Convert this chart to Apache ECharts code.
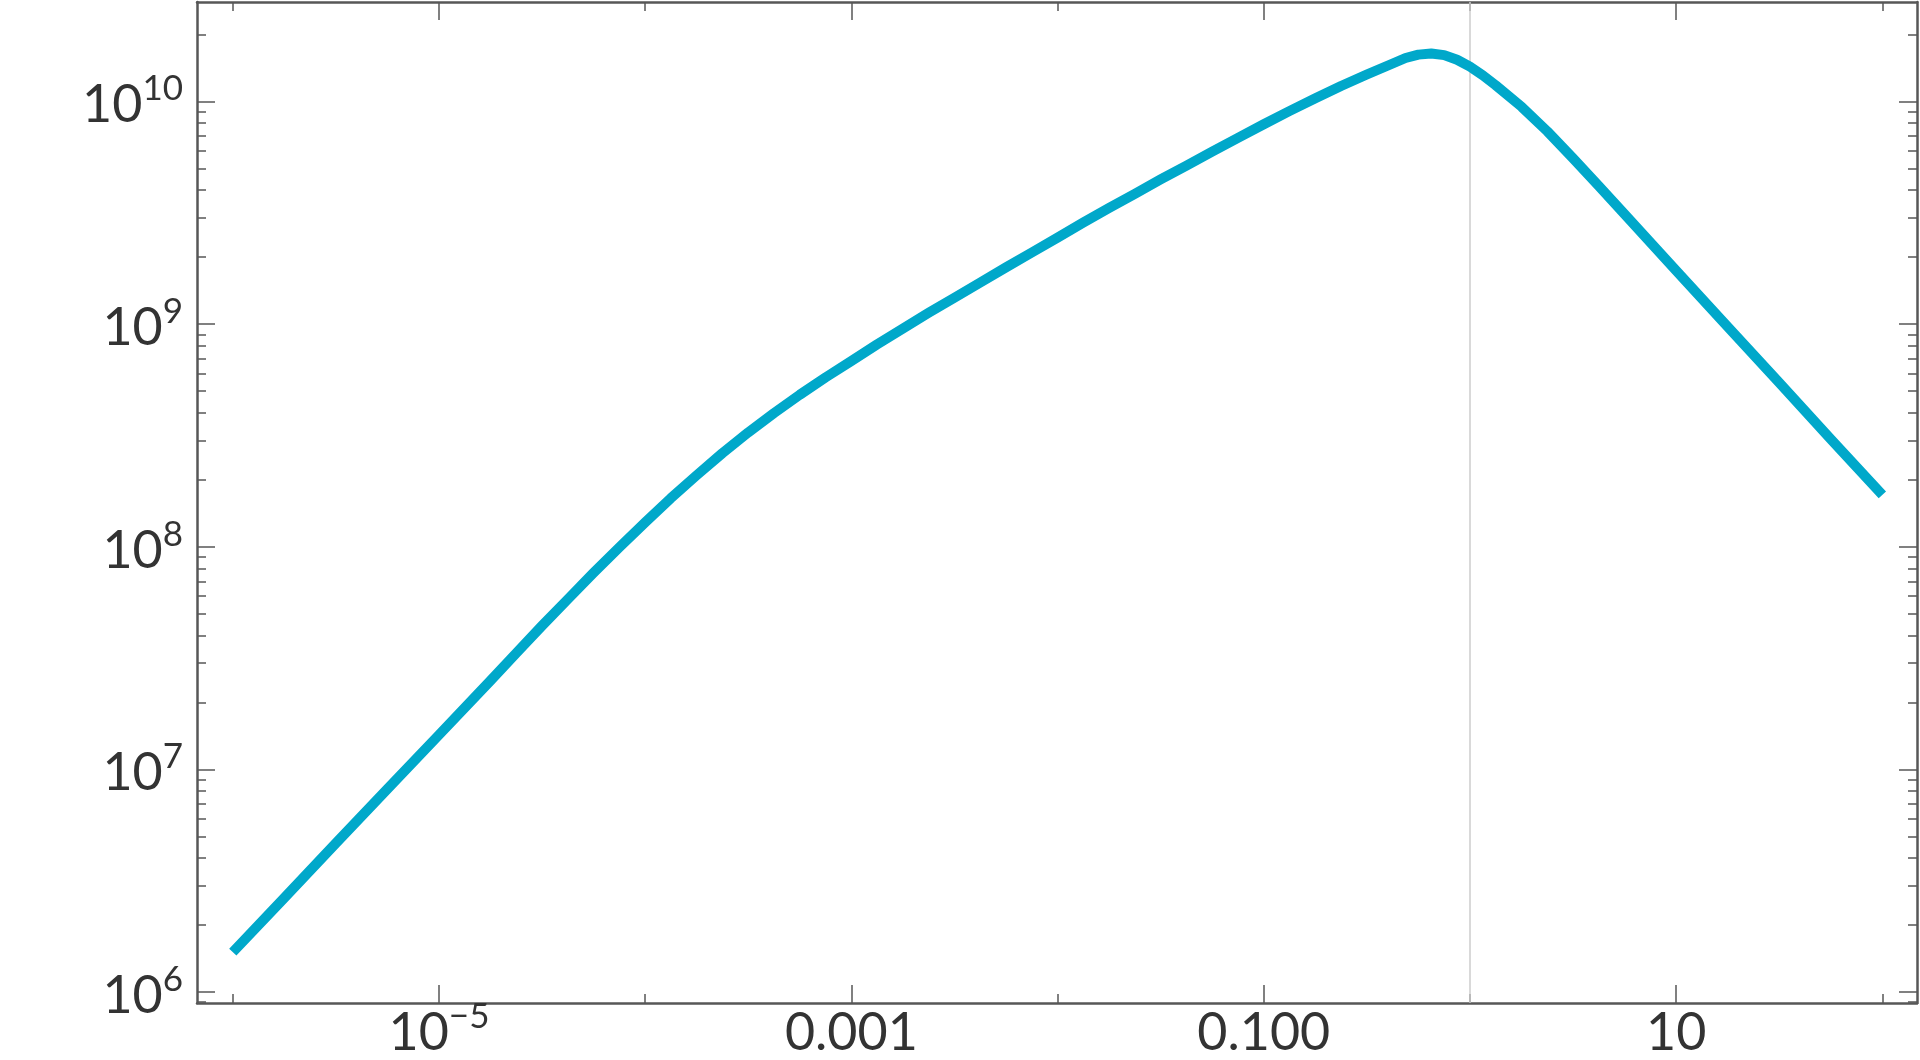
<!DOCTYPE html>
<html><head><meta charset="utf-8">
<script src="https://cdn.jsdelivr.net/npm/echarts@6/dist/echarts.min.js"></script>
<style>html,body{margin:0;padding:0;background:#fff}#c{width:1920px;height:1060px}</style>
</head><body><div id="c"></div>
<script>
// ---- data ----
const xValues = [1e-6, 1.78e-6, 3.16e-6, 5.62e-6, 1e-5, 1.78e-5, 2.37e-5, 3.16e-5, 4.22e-5, 5.62e-5, 7.5e-5,
  1e-4, 1.33e-4, 1.78e-4, 2.37e-4, 3.16e-4, 4.22e-4, 5.62e-4, 7.5e-4,
  1e-3, 1.33e-3, 1.78e-3, 2.37e-3, 3.16e-3, 4.22e-3, 5.62e-3, 7.5e-3,
  0.01, 0.0133, 0.0178, 0.0237, 0.0316, 0.0422, 0.0562, 0.075,
  0.1, 0.133, 0.178, 0.237, 0.316, 0.422, 0.487, 0.562, 0.649, 0.75, 0.866,
  1, 1.155, 1.33, 1.78, 2.37, 3.16, 4.22, 5.62, 10, 17.8, 31.6, 56.2, 100];
const yValues = [1.51e6, 2.65e6, 4.66e6, 8.17e6, 1.43e7, 2.51e7, 3.33e7, 4.42e7, 5.82e7, 7.64e7, 9.95e7,
  1.288e8, 1.652e8, 2.099e8, 2.636e8, 3.266e8, 3.99e8, 4.82e8, 5.77e8,
  6.84e8, 8.11e8, 9.57e8, 1.125e9, 1.315e9, 1.54e9, 1.80e9, 2.10e9,
  2.45e9, 2.86e9, 3.33e9, 3.85e9, 4.47e9, 5.16e9, 5.96e9, 6.87e9,
  7.91e9, 9.06e9, 1.035e10, 1.175e10, 1.324e10, 1.483e10, 1.570e10, 1.626e10, 1.644e10, 1.618e10, 1.542e10,
  1.435e10, 1.312e10, 1.186e10, 9.48e9, 7.36e9, 5.57e9, 4.17e9, 3.12e9, 1.74e9, 9.73e8, 5.46e8, 3.05e8, 1.71e8];

const xMajorTicks = [1e-5, 1e-3, 0.1, 10];
const xMajorLabels = ['10^−5', '0.001', '0.100', '10'];
const xMinorTicks = [1e-6, 1e-4, 1e-2, 1, 100];
const yMajorTicks = [1e6, 1e7, 1e8, 1e9, 1e10];
const yMajorLabels = ['10^6', '10^7', '10^8', '10^9', '10^10'];
const yMinorMantissas = [2, 3, 4, 5, 6, 7, 8, 9];
const referenceX = 1;

// ---- axis ranges ----
const X_MIN = Math.pow(10, -6.1736), X_MAX = Math.pow(10, 2.168);
const Y_MIN = Math.pow(10, 5.9506), Y_MAX = Math.pow(10, 10.4475);

const yMinorTicks = [];
for (let e = 5; e <= 10; e++) {
  yMinorMantissas.forEach(m => {
    const v = m * Math.pow(10, e);
    if (v > Y_MIN && v < Y_MAX) yMinorTicks.push(v);
  });
}

const AXIS_COLOR = '#575757';
const TEXT_COLOR = '#333333';
const FONT = 'Lato';

function toRich(s) {
  const p = s.split('^');
  return p.length > 1 ? '{b|' + p[0] + '}{s|' + p[1] + '}' : '{b|' + p[0] + '}';
}
function labelFor(ticks, labels) {
  return function (v) {
    const lv = Math.log10(v);
    for (let i = 0; i < ticks.length; i++) {
      if (Math.abs(Math.log10(ticks[i]) - lv) < 1e-6) return toRich(labels[i]);
    }
    return '';
  };
}
const rich = {
  b: { fontSize: 52, lineHeight: 52, padding: [8, 0, 0, 0], fontFamily: FONT, color: TEXT_COLOR },
  s: { fontSize: 35, lineHeight: 35, padding: [0, 0, 25, 0], fontFamily: FONT, color: TEXT_COLOR }
};

function axis(kind, pos, ticks, len, showLine, labels) {
  const a = {
    type: 'log', logBase: 10, position: pos,
    min: kind === 'x' ? X_MIN : Y_MIN,
    max: kind === 'x' ? X_MAX : Y_MAX,
    splitLine: { show: false },
    minorTick: { show: false },
    axisLine: { show: showLine, onZero: false, lineStyle: { color: AXIS_COLOR, width: 2.5 } },
    axisTick: { show: true, inside: true, length: len, customValues: ticks,
      lineStyle: { color: AXIS_COLOR, width: 1.5 } },
    axisLabel: { show: false },
    axisPointer: { show: false }
  };
  if (labels) {
    a.axisLabel = {
      show: true, customValues: ticks, formatter: labelFor(ticks, labels),
      margin: kind === 'x' ? 0 : 14, rich: rich, hideOverlap: false,
      showMinLabel: true, showMaxLabel: true
    };
  }
  return a;
}

const chart = echarts.init(document.getElementById('c'), null, { renderer: 'canvas' });
chart.setOption({
  animation: false,
  backgroundColor: '#ffffff',
  grid: { left: 197, top: 2, width: 1720, height: 1001, containLabel: false },
  xAxis: [
    axis('x', 'bottom', xMajorTicks, 18, true, xMajorLabels),
    axis('x', 'bottom', xMinorTicks, 9, false),
    axis('x', 'top', xMajorTicks, 18, true),
    axis('x', 'top', xMinorTicks, 9, false)
  ],
  yAxis: [
    axis('y', 'left', yMajorTicks, 18, true, yMajorLabels),
    axis('y', 'left', yMinorTicks, 9, false),
    axis('y', 'right', yMajorTicks, 18, true),
    axis('y', 'right', yMinorTicks, 9, false)
  ],
  series: [{
    type: 'line',
    xAxisIndex: 0, yAxisIndex: 0,
    data: xValues.map((x, i) => [x, yValues[i]]),
    showSymbol: false,
    smooth: false,
    lineStyle: { color: '#00a8ca', width: 10, cap: 'butt', join: 'round' },
    itemStyle: { color: '#00a8ca' },
    z: 3,
    markLine: {
      silent: true, z: 1, animation: false,
      symbol: ['none', 'none'],
      label: { show: false },
      lineStyle: { color: '#cccccc', width: 1.5, type: 'solid' },
      data: [{ xAxis: referenceX }]
    }
  }]
});
</script></body></html>
